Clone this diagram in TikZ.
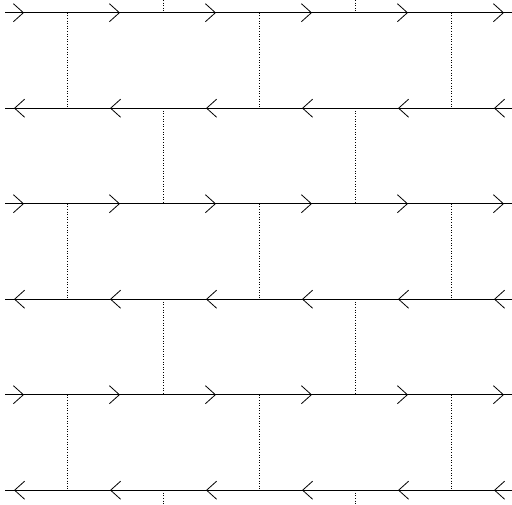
\documentclass[tikz,border=0pt]{standalone}
\usetikzlibrary{arrows.meta}
\tikzset{
  rail/.style = {line width=0.8pt},% horizontal line
  rung/.style = {dotted, line width=0.6pt},% dotted link between lines
  flow/.style = {line width=0.8pt,
    -{Straight Barb[length=10pt,width=18pt,line width=0.8pt]}},% direction mark
}
\begin{document}
\begin{tikzpicture}[x=1pt,y=-1pt]
\useasboundingbox (0,0) rectangle (512,504);

% rails with alternating direction
\foreach \r in {0,...,5}{
  \pgfmathsetmacro{\y}{12.7+95.5*\r}
  \draw[rail] (5,\y) -- (512,\y);
  \foreach \m in {19,115,...,499}{
    \ifodd\r\relax
      \draw[flow] (\m+5,\y) -- (\m-5,\y);
    \else
      \draw[flow] (\m-5,\y) -- (\m+5,\y);
    \fi
  }
}

% rungs between rails
\foreach \r in {0,...,4}{
  \pgfmathsetmacro{\ya}{12.7+95.5*\r}
  \pgfmathsetmacro{\yb}{\ya+95.5}
  \ifodd\r\relax
    \foreach \x in {163,355} \draw[rung] (\x,\ya) -- (\x,\yb);
  \else
    \foreach \x in {67,259,451} \draw[rung] (\x,\ya) -- (\x,\yb);
  \fi
}
% stubs at top and bottom
\foreach \x in {163,355}{
  \draw[rung] (\x,0) -- (\x,12.7);
  \draw[rung] (\x,490.2) -- (\x,504);
}
\end{tikzpicture}
\end{document}
